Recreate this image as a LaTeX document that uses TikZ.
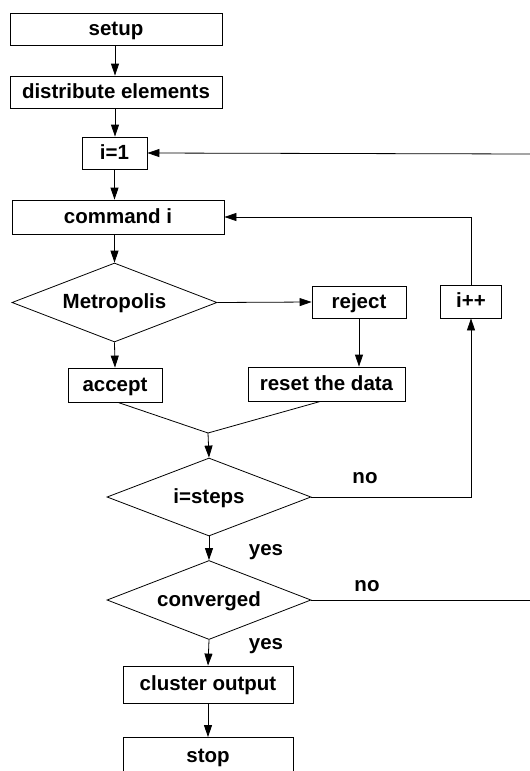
\documentclass[tikz,border=0pt]{standalone}
\usepackage{fontspec}
\setmainfont{Liberation Sans}
\usetikzlibrary{shapes.geometric,arrows.meta}
\begin{document}
\begin{tikzpicture}[x=1pt,y=-1pt,
  every node/.style={font=\fontsize{20.5}{22}\selectfont\bfseries,text height=16pt,text depth=4pt},
  box/.style={draw,line width=0.8pt,rectangle,inner sep=0pt},
  dec/.style={draw,line width=0.8pt,diamond,inner sep=0pt,shape aspect=2.6},
  lbl/.style={inner sep=0pt},
  link/.style={line width=0.8pt},
  arr/.style={line width=0.8pt,-{Triangle[length=12pt,width=8pt]}}]
\useasboundingbox (0,0) rectangle (530,771);
\node[box,minimum width=212pt,minimum height=32pt] (setup) at (116,29) {setup};
\node[box,minimum width=212pt,minimum height=32pt] (dist) at (116,92) {distribute elements};
\node[box,minimum width=65pt,minimum height=32pt] (i1) at (114.5,153) {i=1};
\node[box,minimum width=212pt,minimum height=34pt] (cmd) at (118,217) {command i};
\node[dec,minimum width=205pt,minimum height=79pt] (metro) at (114.5,302.5) {Metropolis};
\node[box,minimum width=94pt,minimum height=32pt] (reject) at (359,302) {reject};
\node[box,minimum width=61pt,minimum height=33pt] (ipp) at (471,301.5) {i++};
\node[box,minimum width=94pt,minimum height=34pt] (accept) at (115,385) {accept};
\node[box,minimum width=157pt,minimum height=34pt] (reset) at (326.5,384) {reset the data};
\coordinate (merge) at (208,433);
\node[dec,minimum width=204pt,minimum height=78pt] (isteps) at (209,497) {i=steps};
\node[dec,minimum width=204pt,minimum height=79pt] (conv) at (209,600) {converged};
\node[box,minimum width=170pt,minimum height=37pt] (cluster) at (208,684.5) {cluster output};
\node[box,minimum width=170pt,minimum height=37pt] (stop) at (208,756) {stop};
\coordinate (edgeA) at (530,154);
\coordinate (edgeB) at (530,600);
\node[lbl] (no1) at (365,477) {no};
\node[lbl] (yes1) at (266,549) {yes};
\node[lbl] (no2) at (367,585) {no};
\node[lbl] (yes2) at (266,643) {yes};
\draw[arr] ([xshift=-1pt]setup.south) -- ([xshift=-1pt]setup.south |- dist.north);
\draw[arr] ([xshift=-1pt]dist.south) -- ([xshift=-1pt]dist.south |- i1.north);
\draw[arr] (i1.south) -- (i1.south |- cmd.north);
\draw[arr] (i1.south |- cmd.south) -- (metro.north);
\draw[arr] (metro.east) -- (reject.west);
\draw[arr] (reject.south) -- (reject.south |- reset.north);
\draw[arr] (metro.south) -- (accept.north);
\draw[link] ([xshift=3pt]accept.south) -- (merge);
\draw[link] ([xshift=-6pt]reset.south) -- (merge);
\draw[arr] (merge) -- (isteps.north);
\draw[arr] (isteps.east) -- (ipp.south |- isteps.east) -- (ipp.south);
\draw[arr] (ipp.north) -- (ipp.north |- cmd.east) -- (cmd.east);
\draw[arr] (edgeA) -- (i1.east);
\draw[arr] (isteps.south) -- (conv.north);
\draw[link] (conv.east) -- (edgeB);
\draw[arr] (conv.south) -- (cluster.north);
\draw[arr] (cluster.south) -- (stop.north);
\end{tikzpicture}
\end{document}
